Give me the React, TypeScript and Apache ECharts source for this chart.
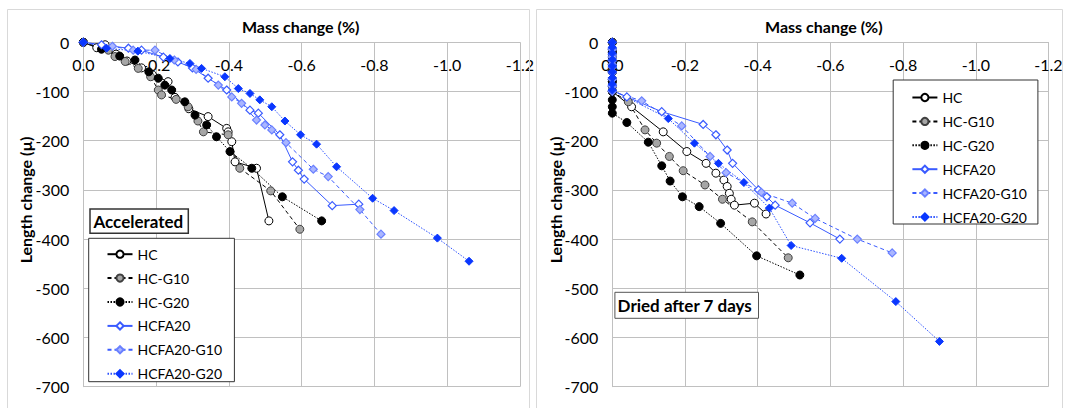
import React, { useEffect, useRef } from "react";
import * as echarts from "echarts";

// ---------- data: [mass change (%), length change (µ)] ----------
const seriesNames = ["HC", "HC-G10", "HC-G20", "HCFA20", "HCFA20-G10", "HCFA20-G20"];
const xTicks = [0, -0.2, -0.4, -0.6, -0.8, -1.0, -1.2];
const yTicks = [0, -100, -200, -300, -400, -500, -600, -700];

// Accelerated
const accHC = [[0,0],[-0.037,-11],[-0.06,-5],[-0.09,-24],[-0.12,-38],[-0.16,-52],[-0.19,-66],[-0.233,-80],[-0.252,-112],[-0.29,-135],[-0.343,-151],[-0.394,-175],[-0.398,-182],[-0.408,-202],[-0.417,-243],[-0.476,-256],[-0.51,-363]];
const accHCG10 = [[0,0],[-0.069,-16],[-0.087,-29],[-0.115,-39],[-0.151,-53],[-0.185,-70],[-0.206,-97],[-0.215,-107],[-0.255,-116],[-0.288,-131],[-0.315,-160],[-0.33,-182],[-0.398,-188],[-0.43,-256],[-0.515,-302],[-0.595,-380]];
const accHCG20 = [[0,0],[-0.05,-14],[-0.1,-28],[-0.142,-36],[-0.18,-60],[-0.206,-73],[-0.224,-87],[-0.243,-97],[-0.279,-121],[-0.307,-148],[-0.339,-168],[-0.366,-192],[-0.403,-222],[-0.463,-256],[-0.547,-314],[-0.655,-363]];
const accFA20 = [[0,0],[-0.05,-5],[-0.124,-12],[-0.16,-16],[-0.22,-30],[-0.26,-40],[-0.3,-52],[-0.343,-73],[-0.394,-97],[-0.458,-138],[-0.481,-144],[-0.54,-188],[-0.575,-243],[-0.591,-260],[-0.607,-278],[-0.684,-332],[-0.757,-329]];
const accFA20G10 = [[0,0],[-0.08,-8],[-0.137,-16],[-0.197,-16],[-0.25,-36],[-0.31,-55],[-0.371,-87],[-0.408,-111],[-0.435,-124],[-0.476,-158],[-0.499,-168],[-0.518,-178],[-0.557,-204],[-0.632,-258],[-0.673,-273],[-0.76,-340],[-0.818,-390]];
const accFA20G20 = [[0,0],[-0.064,-12],[-0.15,-18],[-0.238,-33],[-0.293,-43],[-0.325,-53],[-0.389,-70],[-0.426,-94],[-0.458,-104],[-0.485,-117],[-0.518,-131],[-0.554,-160],[-0.597,-188],[-0.641,-207],[-0.696,-253],[-0.795,-317],[-0.854,-342],[-0.973,-398],[-1.06,-445]];

// Dried after 7 days
const dryHC = [[0,0],[0,-15],[0,-30],[0,-45],[0,-60],[0,-75],[0,-90],[0,-100],[-0.053,-131],[-0.14,-182],[-0.205,-222],[-0.258,-246],[-0.285,-266],[-0.307,-280],[-0.316,-293],[-0.322,-307],[-0.327,-319],[-0.336,-331],[-0.391,-327],[-0.423,-349]];
const dryHCG10 = [[0,0],[0,-20],[0,-40],[0,-60],[0,-80],[0,-100],[-0.044,-121],[-0.09,-178],[-0.122,-205],[-0.157,-232],[-0.195,-261],[-0.255,-290],[-0.303,-319],[-0.385,-365],[-0.484,-438]];
const dryHCG20 = [[0,0],[0,-20],[0,-40],[0,-60],[0,-80],[0,-100],[0,-117],[0,-131],[0,-144],[-0.04,-163],[-0.099,-203],[-0.136,-251],[-0.159,-282],[-0.193,-314],[-0.239,-334],[-0.298,-368],[-0.397,-434],[-0.516,-473]];
const dryFA20 = [[0,0],[0,-12],[0,-25],[0,-38],[0,-50],[0,-62],[0,-75],[0,-88],[0,-98],[-0.04,-111],[-0.136,-141],[-0.25,-167],[-0.285,-188],[-0.316,-219],[-0.331,-246],[-0.402,-300],[-0.425,-314],[-0.448,-331],[-0.544,-367],[-0.626,-400]];
const dryFA20G10 = [[0,0],[0,-15],[0,-30],[0,-45],[0,-60],[0,-75],[0,-90],[0,-100],[-0.081,-119],[-0.191,-170],[-0.269,-232],[-0.313,-265],[-0.41,-305],[-0.495,-327],[-0.558,-358],[-0.674,-400],[-0.77,-428]];
const dryFA20G20 = [[0,0],[0,-10],[0,-22],[0,-35],[0,-48],[0,-60],[0,-72],[0,-85],[0,-97],[-0.154,-155],[-0.226,-205],[-0.292,-246],[-0.362,-285],[-0.432,-337],[-0.492,-413],[-0.631,-439],[-0.78,-527],[-0.9,-608]];

const accData = [accHC, accHCG10, accHCG20, accFA20, accFA20G10, accFA20G20];
const dryData = [dryHC, dryHCG10, dryHCG20, dryFA20, dryFA20G10, dryFA20G20];

const FONT = 'Lato, "DejaVu Sans", sans-serif';
const GRID_C = "#c0c0c0";
const BLUE = "#3a5bff";

const styles: any[] = [
  { symbol: "circle", itemStyle: { color: "#ffffff", borderColor: "#000", borderWidth: 1 }, lineStyle: { color: "#000", width: 1, type: "solid" } },
  { symbol: "circle", itemStyle: { color: "#a6a6a6", borderColor: "#404040", borderWidth: 1 }, lineStyle: { color: "#000", width: 1, type: [4, 3] } },
  { symbol: "circle", itemStyle: { color: "#000", borderColor: "#000", borderWidth: 1 }, lineStyle: { color: "#000", width: 1, type: [1.5, 1.5] } },
  { symbol: "diamond", itemStyle: { color: "#ffffff", borderColor: BLUE, borderWidth: 1.2 }, lineStyle: { color: BLUE, width: 1, type: "solid" } },
  { symbol: "diamond", itemStyle: { color: "#aab6ff", borderColor: "#6a80ff", borderWidth: 1.2 }, lineStyle: { color: BLUE, width: 1, type: [4, 3] } },
  { symbol: "diamond", itemStyle: { color: "#0a37ff", borderColor: "#0a37ff", borderWidth: 1 }, lineStyle: { color: "#2a50ff", width: 1, type: [1.5, 1.5] } },
];

function xAxis(gridIndex: number) {
  return {
    type: "value",
    gridIndex,
    position: "top",
    inverse: true,
    min: xTicks[xTicks.length - 1],
    max: xTicks[0],
    interval: 0.2,
    axisLine: { show: true, lineStyle: { color: GRID_C } },
    axisTick: { show: false },
    splitLine: { show: true, lineStyle: { color: GRID_C } },
    axisLabel: {
      inside: true,
      margin: 14,
      fontSize: 16,
      fontFamily: FONT,
      color: "#000",
      showMinLabel: true,
      showMaxLabel: true,
      formatter: (v: number) => (Math.abs(v) < 1e-9 ? "0.0" : v.toFixed(1)),
    },
  };
}

function yAxis(gridIndex: number) {
  return {
    type: "value",
    gridIndex,
    min: yTicks[yTicks.length - 1],
    max: yTicks[0],
    interval: 100,
    axisLine: { show: true, lineStyle: { color: GRID_C } },
    axisTick: { show: false },
    splitLine: { show: true, lineStyle: { color: GRID_C } },
    axisLabel: { margin: 14, fontSize: 16, fontFamily: FONT, color: "#000" },
  };
}

function legend(left: number, top: number) {
  return {
    orient: "vertical",
    left,
    top,
    padding: 0,
    itemWidth: 25,
    itemHeight: 9,
    itemGap: 9.9,
    selectedMode: false,
    data: seriesNames,
    textStyle: { fontSize: 14, fontFamily: FONT, color: "#000" },
    z: 6,
  };
}

export default function App() {
  const ref = useRef<HTMLDivElement>(null);
  useEffect(() => {
    document.body.style.margin = "0";
    const chart = echarts.init(ref.current!, null, { renderer: "svg" });
    const series: any[] = [];
    [accData, dryData].forEach((set, gi) => {
      set.forEach((d, i) => {
        series.push({
          type: "line",
          name: seriesNames[i],
          xAxisIndex: gi,
          yAxisIndex: gi,
          data: d,
          symbolSize: 8,
          showAllSymbol: true,
          ...styles[i],
        });
      });
    });
    const titleStyle = { fontSize: 16, fontWeight: "bold", fontFamily: FONT, fill: "#000", align: "center", verticalAlign: "middle" };
    chart.setOption({
      animation: false,
      grid: [
        { left: 83.3, top: 42.3, width: 436.7, height: 344.4 },
        { left: 612.3, top: 42.3, width: 436.2, height: 344.4 },
      ],
      xAxis: [xAxis(0), xAxis(1)],
      yAxis: [yAxis(0), yAxis(1)],
      legend: [legend(106.5, 247.2), legend(911.4, 90.5)],
      series,
      graphic: [
        { type: "rect", z: 1, shape: { x: 7.5, y: 9.5, width: 522, height: 420 }, style: { fill: "none", stroke: "#d9d9d9", lineWidth: 1 } },
        { type: "rect", z: 1, shape: { x: 536.5, y: 9.5, width: 526, height: 420 }, style: { fill: "none", stroke: "#d9d9d9", lineWidth: 1 } },
        { type: "text", z: 5, x: 300.7, y: 26.7, style: { text: "Mass change (%)", ...titleStyle } },
        { type: "text", z: 5, x: 823.8, y: 26.7, style: { text: "Mass change (%)", ...titleStyle } },
        { type: "text", z: 5, x: 25.8, y: 200, rotation: Math.PI / 2, style: { text: "Length change (µ)", ...titleStyle } },
        { type: "text", z: 5, x: 555.8, y: 200, rotation: Math.PI / 2, style: { text: "Length change (µ)", ...titleStyle } },
        // legend boxes
        { type: "rect", z: 5, shape: { x: 88.7, y: 238.3, width: 145.7, height: 143.4 }, style: { fill: "#fff", stroke: "#333", lineWidth: 1 } },
        { type: "rect", z: 5, shape: { x: 893.2, y: 80, width: 144.7, height: 144 }, style: { fill: "#fff", stroke: "#333", lineWidth: 1 } },
        // annotation boxes
        { type: "rect", z: 5, shape: { x: 90, y: 209, width: 98.3, height: 24.3 }, style: { fill: "#fff", stroke: "#333", lineWidth: 1.5 } },
        { type: "text", z: 6, x: 93.5, y: 221.2, style: { text: "Accelerated", fontSize: 17, fontWeight: "bold", fontFamily: FONT, fill: "#000", align: "left", verticalAlign: "middle" } },
        { type: "rect", z: 5, shape: { x: 614.9, y: 292.3, width: 143.6, height: 26 }, style: { fill: "#fff", stroke: "#555", lineWidth: 1 } },
        { type: "text", z: 6, x: 617.6, y: 305.3, style: { text: "Dried after 7 days", fontSize: 17, fontWeight: "bold", fontFamily: FONT, fill: "#000", align: "left", verticalAlign: "middle" } },
      ],
    });
    return () => chart.dispose();
  }, []);
  return <div ref={ref} style={{ width: 1069, height: 408 }} />;
}
